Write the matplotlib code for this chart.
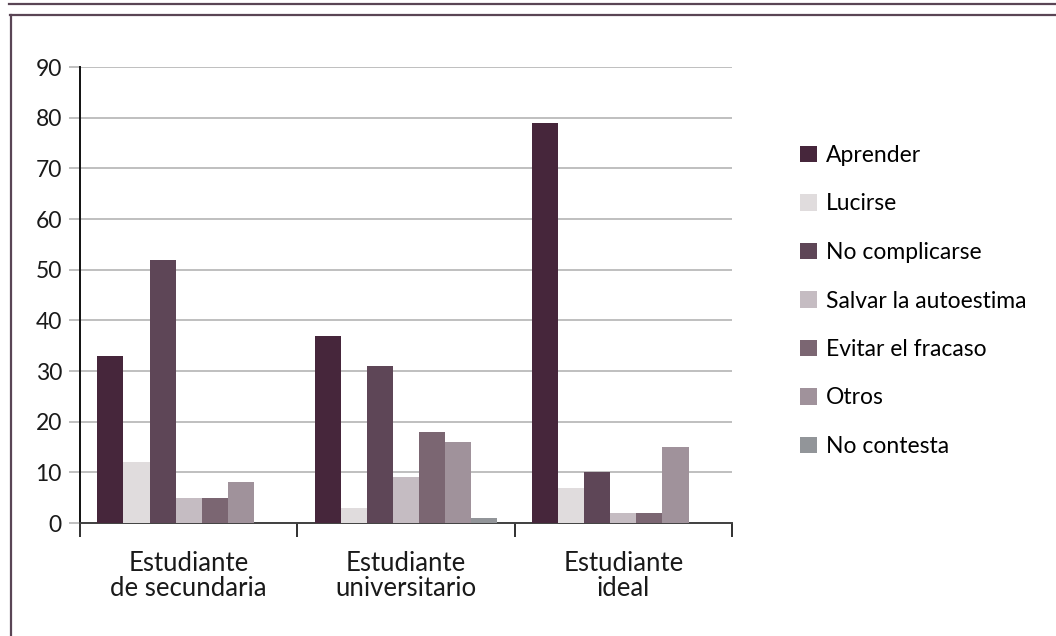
import matplotlib
matplotlib.use("Agg")
import matplotlib.pyplot as plt
import numpy as np
from matplotlib.lines import Line2D
from matplotlib.patches import Patch

categories = ["Estudiante\nde secundaria", "Estudiante\nuniversitario", "Estudiante\nideal"]
series = ["Aprender", "Lucirse", "No complicarse", "Salvar la autoestima",
          "Evitar el fracaso", "Otros", "No contesta"]
values = {
    "Aprender": [33, 37, 79],
    "Lucirse": [12, 3, 7],
    "No complicarse": [52, 31, 10],
    "Salvar la autoestima": [5, 9, 2],
    "Evitar el fracaso": [5, 18, 2],
    "Otros": [8, 16, 15],
    "No contesta": [0, 1, 0],
}
colors = ["#46263b", "#e0dcdd", "#5e4657", "#c5bcc2", "#7b6672", "#a0929b", "#929599"]
yticks = [0, 10, 20, 30, 40, 50, 60, 70, 80, 90]

plt.rcParams['font.family'] = ['Lato', 'DejaVu Sans']

fig = plt.figure(figsize=(10.56, 6.36), dpi=100)
ax = fig.add_axes([80/1056, 1-523/636, (732-80)/1056, (523-67)/636])

x = np.arange(len(categories))
w = 0.12
for i, s in enumerate(series):
    ax.bar(x + (i - 3) * w, values[s], width=w, color=colors[i], label=s, zorder=3)

ax.set_xlim(-0.5, 2.5)
ax.set_ylim(0, 90)
ax.set_yticks(yticks)
ax.set_yticklabels([str(v) for v in yticks], fontsize=16.5)
ax.yaxis.grid(True, color="#b4b4b4", linewidth=1.2, zorder=0)
ax.set_axisbelow(True)
ax.tick_params(axis='y', length=8, width=1.2, color="#b4b4b4", pad=5, labelcolor="#1a1a1a")
yt = ax.get_yticklines()
yt[0].set_color("#404040")

ax.set_xticks(x)
ax.set_xticklabels(categories, fontsize=18.5, linespacing=1.0)
ax.tick_params(axis='x', which='major', length=0, pad=20, labelcolor="#1a1a1a")
ax.set_xticks([-0.5, 0.5, 1.5, 2.5], minor=True)
ax.tick_params(axis='x', which='minor', length=10, width=1.4, color="#303030", direction='out')

for sp in ['top', 'right']:
    ax.spines[sp].set_visible(False)
ax.spines['left'].set_color("#101010")
ax.spines['left'].set_linewidth(1.4)
ax.spines['bottom'].set_color("#404040")
ax.spines['bottom'].set_linewidth(1.4)

handles = [Patch(facecolor=c, edgecolor='none') for c in colors]
fig.legend(handles, series, loc='upper left', bbox_to_anchor=(800/1056, 1-145/636),
           frameon=False, fontsize=16.5, handlelength=0.74, handleheight=0.74,
           handletextpad=0.4, labelspacing=1.2, borderaxespad=0, borderpad=0)

fc = "#5a4555"
fig.add_artist(Line2D([9/1056, 1], [1-4/636, 1-4/636], transform=fig.transFigure, color=fc, linewidth=1.6))
fig.add_artist(Line2D([10/1056, 1], [1-15/636, 1-15/636], transform=fig.transFigure, color=fc, linewidth=1.6))
fig.add_artist(Line2D([10.5/1056, 10.5/1056], [0, 1-15/636], transform=fig.transFigure, color=fc, linewidth=1.6))

fig.savefig("out.png", dpi=100)
